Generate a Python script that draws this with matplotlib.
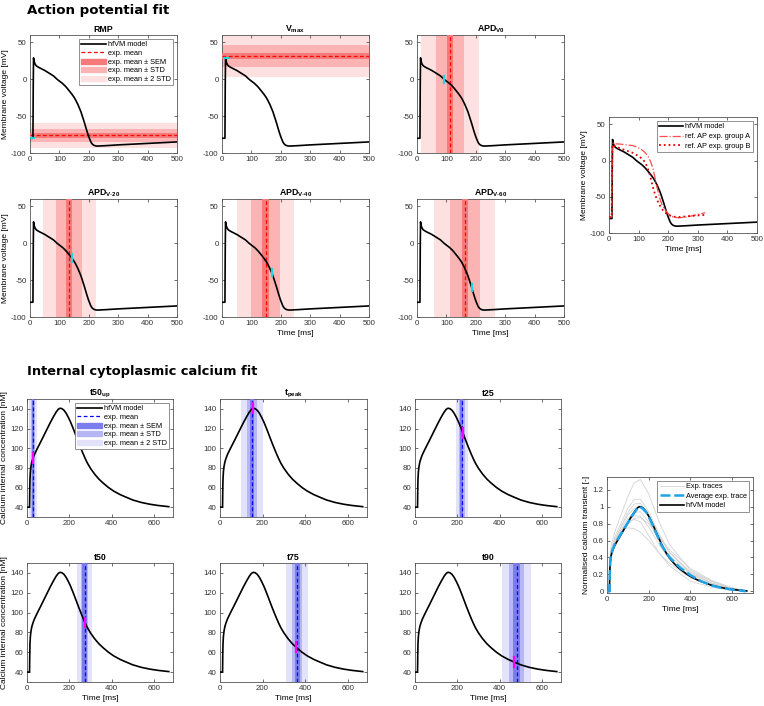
import matplotlib
matplotlib.use('Agg')
import matplotlib.pyplot as plt
from matplotlib.patches import Patch
from matplotlib.lines import Line2D
from matplotlib.ticker import FormatStrFormatter

plt.rcParams['font.family'] = ['Liberation Sans', 'DejaVu Sans']
plt.rcParams['mathtext.fontset'] = 'custom'
plt.rcParams['mathtext.rm'] = 'Liberation Sans'
plt.rcParams['mathtext.bf'] = 'Liberation Sans:bold'
plt.rcParams['axes.unicode_minus'] = False

# ---------------- data ----------------
# hfVM model action potential
ap_t = [0, 10, 11, 12, 13, 15, 18, 22, 30, 40, 50, 60, 70, 80, 92, 100, 110, 118, 125, 133,
        142, 150, 155, 162, 169, 174, 178, 182, 186, 190, 193, 197, 200, 204, 207, 211, 215,
        220, 225, 232, 240, 260, 300, 350, 400, 450, 500]
ap_v = [-80, -80, -10, 29, 27, 23, 20, 18, 16, 14, 12, 9.5, 7, 4.5, 0, -2.5, -5.5, -8.5, -11.5, -15.5,
        -20, -24.5, -28, -33.5, -40, -45, -50, -55, -60, -65.5, -69.5, -74.5, -78, -82, -85, -87.5, -89,
        -90, -90.5, -90.6, -90.4, -90, -89, -88, -87, -86, -85]

# reference experimental APs
gA_t = [0, 9, 10, 11, 13, 20, 36, 60, 81, 95, 110, 122, 132, 141, 149, 155, 161, 167, 172, 180,
        188, 195, 205, 217, 235, 262, 290, 325]
gA_v = [-78, -78, -20, 22, 24, 23, 22.7, 21.5, 20.5, 18.5, 15, 11, 6, -2, -12, -23, -35, -45, -53, -62,
        -67, -71, -75, -78, -79, -78, -75.5, -72]
gB_t = [0, 9, 10, 11, 13, 20, 36, 60, 81, 100, 115, 124, 132, 138, 144, 152, 161, 170, 183, 195,
        206, 220, 240, 262, 290, 325]
gB_v = [-78, -78, -20, 20, 22, 20, 17, 13.5, 10.5, 6, 1.4, -4, -12, -20, -30, -42, -53, -61, -69, -73.5,
        -76, -77.5, -78, -77, -76, -75]

# AP biomarkers: experimental mean, SEM, STD
ap_titles = [r'RMP', r'V$_{\mathbf{max}}$', r'APD$_{\mathbf{V0}}$', r'APD$_{\mathbf{V\text{-}20}}$',
             r'APD$_{\mathbf{V\text{-}40}}$', r'APD$_{\mathbf{V\text{-}60}}$']
ap_mean = [-76, 31.5, 112, 133, 148, 163]
ap_sem = [3, 4, 9, 9, 11, 11]
ap_std = [8.5, 14.5, 49, 45, 49, 52]
# model biomarker markers (time, voltage)
ap_mark_t = [12, 13, 91, 142, 169, 186]
ap_mark_v = [-80, 29, 0, -20, -40, -60]

# hfVM model calcium transient
ca_t = [0, 12, 13, 14, 16, 19, 23, 28, 35, 45, 55, 65, 80, 95, 110, 125, 138, 148, 156, 165,
        175, 185, 195, 205, 215, 225, 235, 245, 255, 265, 275, 285, 300, 320, 340, 360, 385, 410,
        440, 470, 500, 540, 580, 620, 670]
ca_v = [40, 40, 58, 68, 76, 81.5, 86, 89.5, 93.5, 98, 102.3, 106.5, 113, 119.5, 126, 132, 136.8,
        139.6, 140.6, 140.2, 138.5, 135.5, 131.5, 127, 121.8, 116.3, 110.6, 105, 99.6, 94.4, 89.5,
        85, 79.5, 73.5, 68.5, 64.5, 60, 56.3, 52.8, 50, 47.3, 44.8, 43, 41.7, 40.5]

ca_titles = [r't50$_{\mathbf{up}}$', r't$_{\mathbf{peak}}$', 't25', 't50', 't75', 't90']
ca_mean = [28, 150, 221, 272, 362, 480]
ca_sem = [4, 8, 6, 10, 12, 18]
ca_std = [9, 25, 14, 18, 25, 34]
ca_mark_t = [29, 156, 227, 273, 356, 470]
ca_mark_v = [90, 140.6, 115.3, 90, 65.3, 50]

# normalised experimental calcium traces
tr_t = [0, 10, 14, 20, 40, 70, 100, 130, 160, 200, 250, 300, 400, 500, 600, 670]
traces = [
    [0, 0, 0.35, 0.55, 0.72, 0.92, 1.12, 1.28, 1.32, 1.15, 0.82, 0.55, 0.25, 0.12, 0.04, 0],
    [0, 0, 0.30, 0.50, 0.66, 0.82, 0.98, 1.08, 1.09, 0.94, 0.68, 0.46, 0.21, 0.10, 0.03, 0],
    [0, 0, 0.32, 0.48, 0.62, 0.78, 0.93, 1.03, 1.04, 0.90, 0.66, 0.46, 0.22, 0.10, 0.03, 0],
    [0, 0, 0.30, 0.46, 0.60, 0.74, 0.86, 0.93, 0.94, 0.82, 0.60, 0.42, 0.20, 0.09, 0.03, 0],
    [0, 0, 0.26, 0.42, 0.56, 0.70, 0.82, 0.89, 0.89, 0.76, 0.55, 0.38, 0.17, 0.08, 0.02, 0],
    [0, 0, 0.25, 0.40, 0.54, 0.68, 0.79, 0.86, 0.87, 0.80, 0.64, 0.49, 0.27, 0.13, 0.04, 0],
    [0, 0, 0.30, 0.45, 0.60, 0.72, 0.75, 0.74, 0.70, 0.60, 0.45, 0.33, 0.16, 0.07, 0.02, 0],
    [0, 0, 0.28, 0.44, 0.58, 0.72, 0.82, 0.85, 0.82, 0.66, 0.45, 0.30, 0.12, 0.05, 0.01, 0],
    [0, 0, 0.30, 0.47, 0.62, 0.77, 0.90, 0.98, 1.00, 0.88, 0.65, 0.46, 0.23, 0.12, 0.04, 0],
]
avg_t = [0, 12, 14, 16, 20, 28, 40, 60, 80, 100, 120, 140, 155, 170, 190, 210, 230, 260, 300, 350,
         400, 450, 500, 550, 600, 640, 665]
avg_v = [0, 0, 0.25, 0.36, 0.44, 0.50, 0.57, 0.65, 0.73, 0.81, 0.89, 0.96, 1.0, 0.98, 0.93, 0.83,
         0.72, 0.55, 0.40, 0.28, 0.19, 0.12, 0.07, 0.04, 0.02, 0.01, 0]

# ---------------- styling ----------------
W, H = 764, 706
fig = plt.figure(figsize=(W / 100, H / 100), dpi=100)

RED_2STD, RED_STD, RED_SEM = '#fde1e1', '#fcb3b3', '#f67a7a'
BLU_2STD, BLU_STD, BLU_SEM = '#e2e2fb', '#b6b6f4', '#7c7cef'
CYAN = '#22d3e0'
MAGENTA = '#ff00ff'
TICK_FS, LAB_FS, TIT_FS, LEG_FS = 5.7, 6.0, 6.3, 5.3


def mk(l, t, r, b):
    ax = fig.add_axes([l / W, 1 - b / H, (r - l) / W, (b - t) / H])
    ax.tick_params(direction='in', length=2.2, width=0.5, top=True, right=True,
                   labelsize=TICK_FS, colors='#333333', pad=2.5)
    for s in ax.spines.values():
        s.set_color('#555555')
        s.set_linewidth(0.6)
    return ax


def leg(ax, handles, labels, hl=3.3, ls=0.2):
    lg = ax.legend(handles, labels, loc='upper right', fontsize=LEG_FS, frameon=True, fancybox=False,
                   edgecolor='#7f7f7f', framealpha=1, handlelength=hl, handletextpad=0.3,
                   borderpad=0.35, labelspacing=ls, borderaxespad=0.5)
    lg.get_frame().set_linewidth(0.6)
    return lg


fig.text(27 / W, 1 - 14 / H, 'Action potential fit', fontsize=9.6, fontweight='bold',
         family='DejaVu Sans', va='baseline')
fig.text(27 / W, 1 - 375 / H, 'Internal cytoplasmic calcium fit', fontsize=9.4, fontweight='bold',
         family='DejaVu Sans', va='baseline')

# ---------------- AP panels ----------------
ap_boxes = [(30, 35, 177, 153), (222, 35, 369, 153), (417, 35, 564, 153),
            (30, 199, 177, 317), (222, 199, 369, 317), (417, 199, 564, 317)]
for i, box in enumerate(ap_boxes):
    ax = mk(*box)
    m, se, sd = ap_mean[i], ap_sem[i], ap_std[i]
    span = ax.axhspan if i < 2 else ax.axvspan
    span(m - 2 * sd, m + 2 * sd, color=RED_2STD, lw=0, zorder=1)
    span(m - sd, m + sd, color=RED_STD, lw=0, zorder=2)
    span(m - se, m + se, color=RED_SEM, lw=0, zorder=3)
    if i < 2:
        ax.axhline(m, color='#ff0000', ls=(0, (3, 2)), lw=0.9, zorder=4)
    else:
        ax.axvline(m, color='#ff0000', ls=(0, (3, 2)), lw=0.9, zorder=4)
    ax.plot(ap_t, ap_v, color='black', lw=1.2, zorder=5)
    mt, mv = ap_mark_t[i], ap_mark_v[i]
    if i == 0:
        ax.plot([0, mt], [mv, mv], color=CYAN, lw=1.6, zorder=6)
    elif i == 1:
        ax.plot([mt - 7, mt + 7], [mv, mv], color=CYAN, lw=1.6, zorder=6)
    else:
        ax.plot([mt, mt], [mv - 5, mv + 5], color=CYAN, lw=1.6, zorder=6)
    ax.set_xlim(0, 500)
    ax.set_ylim(-100, 60)
    ax.set_xticks([0, 100, 200, 300, 400, 500])
    ax.set_yticks([-100, -50, 0, 50])
    ax.set_title(ap_titles[i], fontsize=TIT_FS, fontweight='bold', pad=2.5)
    if i in (0, 3):
        ax.set_ylabel('Membrane voltage [mV]', fontsize=LAB_FS, labelpad=1.5)
    if i in (4, 5):
        ax.set_xlabel('Time [ms]', fontsize=LAB_FS, labelpad=2)
    if i == 0:
        h = [Line2D([], [], color='black', lw=1.2),
             Line2D([], [], color='#ff0000', ls=(0, (3, 2)), lw=0.9),
             Patch(color=RED_SEM), Patch(color=RED_STD), Patch(color=RED_2STD)]
        leg(ax, h, ['hfVM model', 'exp. mean', 'exp. mean \u00b1 SEM',
                    'exp. mean \u00b1 STD', 'exp. mean \u00b1 2 STD'])

# right AP comparison
ax = mk(609, 117, 757, 233)
l1, = ax.plot(ap_t, ap_v, color='black', lw=1.2)
l2, = ax.plot(gA_t, gA_v, color='#ff4d4d', ls='-.', lw=0.9)
l3, = ax.plot(gB_t, gB_v, color='#e00000', ls=':', lw=1.3)
ax.set_xlim(0, 500)
ax.set_ylim(-100, 60)
ax.set_xticks([0, 100, 200, 300, 400, 500])
ax.set_yticks([-100, -50, 0, 50])
ax.set_ylabel('Membrane voltage [mV]', fontsize=LAB_FS, labelpad=1.5)
ax.set_xlabel('Time [ms]', fontsize=LAB_FS, labelpad=2)
leg(ax, [l1, l2, l3], ['hfVM model', 'ref. AP exp. group A', 'ref. AP exp. group B'], hl=3.2, ls=0.35)

# ---------------- calcium panels ----------------
ca_boxes = [(27, 399, 173, 517), (220, 399, 367, 517), (415, 399, 561, 517),
            (27, 563, 173, 682), (220, 563, 367, 682), (415, 563, 561, 682)]
for i, box in enumerate(ca_boxes):
    ax = mk(*box)
    m, se, sd = ca_mean[i], ca_sem[i], ca_std[i]
    ax.axvspan(m - 2 * sd, m + 2 * sd, color=BLU_2STD, lw=0, zorder=1)
    ax.axvspan(m - sd, m + sd, color=BLU_STD, lw=0, zorder=2)
    ax.axvspan(m - se, m + se, color=BLU_SEM, lw=0, zorder=3)
    ax.axvline(m, color='#0000ff', ls=(0, (3, 2)), lw=0.9, zorder=4)
    ax.plot(ca_t, ca_v, color='black', lw=1.2, zorder=5)
    mt, mv = ca_mark_t[i], ca_mark_v[i]
    ax.plot([mt, mt], [mv - 5, mv + 5], color=MAGENTA, lw=1.6, zorder=6)
    ax.set_xlim(0, 690)
    ax.set_ylim(30, 150)
    ax.set_xticks([0, 200, 400, 600])
    ax.set_yticks([40, 60, 80, 100, 120, 140])
    ax.set_title(ca_titles[i], fontsize=TIT_FS, fontweight='bold', pad=2.5)
    if i in (0, 3):
        ax.set_ylabel('Calcium internal concentration [nM]', fontsize=LAB_FS, labelpad=1.5)
    if i >= 3:
        ax.set_xlabel('Time [ms]', fontsize=LAB_FS, labelpad=2)
    if i == 0:
        h = [Line2D([], [], color='black', lw=1.2),
             Line2D([], [], color='#0000ff', ls=(0, (3, 2)), lw=0.9),
             Patch(color=BLU_SEM), Patch(color=BLU_STD), Patch(color=BLU_2STD)]
        leg(ax, h, ['hfVM model', 'exp. mean', 'exp. mean \u00b1 SEM',
                    'exp. mean \u00b1 STD', 'exp. mean \u00b1 2 STD'])

# right normalised calcium
ax = mk(607, 477, 753, 593)
for k, tr in enumerate(traces):
    lt, = ax.plot(tr_t, tr, color='#d3d3d3', lw=0.6)
ca_min, ca_max = min(ca_v), max(ca_v)
ca_norm = [(c - ca_min) / (ca_max - ca_min) for c in ca_v]
lm, = ax.plot(ca_t, ca_norm, color='black', lw=1.2, zorder=5)
la, = ax.plot(avg_t, avg_v, color='#1fa2e6', ls=(0, (4, 1.5)), lw=1.8, zorder=6)
ax.set_xlim(0, 700)
ax.set_ylim(-0.02, 1.35)
ax.set_xticks([0, 200, 400, 600])
ax.set_yticks([0, 0.2, 0.4, 0.6, 0.8, 1.0, 1.2])
ax.yaxis.set_major_formatter(FormatStrFormatter('%g'))
ax.set_ylabel('Normalised calcium transient [-]', fontsize=LAB_FS, labelpad=1.5)
ax.set_xlabel('Time [ms]', fontsize=LAB_FS, labelpad=2)
leg(ax, [lt, la, lm], ['Exp. traces', 'Average exp. trace', 'hfVM model'], hl=3.2, ls=0.3)

fig.savefig('out.png', dpi=100)
